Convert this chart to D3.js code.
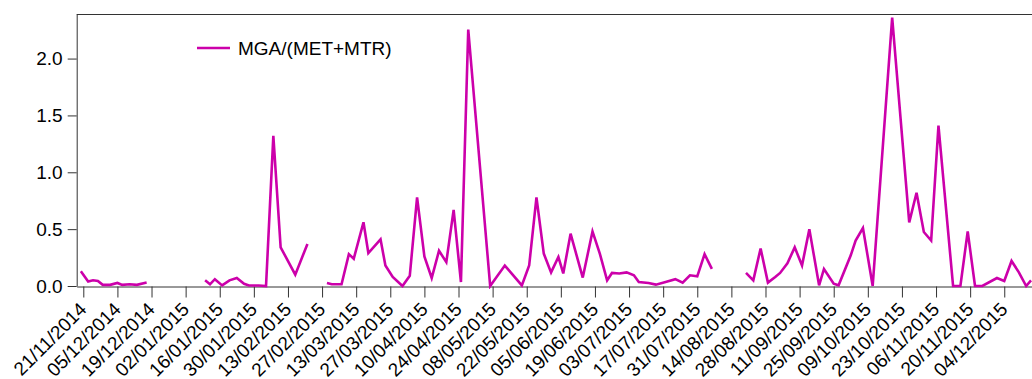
<!DOCTYPE html>
<html><head><meta charset="utf-8">
<script src="https://cdn.jsdelivr.net/npm/d3@7"></script>
<style>
body{margin:0;background:#fff}
svg{display:block}
text{font-family:Arial,"Liberation Sans",sans-serif;fill:#000}
</style>
</head><body>
<svg id="c" width="1032" height="379"></svg>
<script>
const dates = [
 "2014-11-20","2014-11-23","2014-11-25","2014-11-27","2014-11-29","2014-12-02","2014-12-05","2014-12-07","2014-12-10","2014-12-13","2014-12-17",
 "2014-12-30",
 "2015-01-10","2015-01-12","2015-01-14","2015-01-17","2015-01-20","2015-01-23","2015-01-26","2015-01-28","2015-02-01","2015-02-04","2015-02-07","2015-02-10","2015-02-16","2015-02-21",
 "2015-02-25",
 "2015-03-01","2015-03-03","2015-03-07","2015-03-10","2015-03-12","2015-03-16","2015-03-18","2015-03-23","2015-03-25","2015-03-28",
 "2015-04-01","2015-04-04","2015-04-07","2015-04-10","2015-04-13","2015-04-16","2015-04-19","2015-04-22","2015-04-25","2015-04-28",
 "2015-05-07","2015-05-13","2015-05-20","2015-05-23","2015-05-26","2015-05-29",
 "2015-06-01","2015-06-04","2015-06-06","2015-06-09","2015-06-14","2015-06-18","2015-06-21","2015-06-24","2015-06-26","2015-06-29",
 "2015-07-02","2015-07-05","2015-07-07","2015-07-11","2015-07-14","2015-07-18","2015-07-22","2015-07-25","2015-07-28","2015-07-31",
 "2015-08-03","2015-08-06",
 "2015-08-13",
 "2015-08-20","2015-08-23","2015-08-26","2015-08-29","2015-09-01","2015-09-03","2015-09-06","2015-09-09","2015-09-12","2015-09-15",
 "2015-09-19","2015-09-21","2015-09-25","2015-09-27","2015-10-02","2015-10-04","2015-10-07","2015-10-11","2015-10-19","2015-10-26",
 "2015-10-29","2015-11-01","2015-11-04","2015-11-07","2015-11-13","2015-11-16","2015-11-19","2015-11-22","2015-11-25","2015-12-01",
 "2015-12-04","2015-12-07","2015-12-10","2015-12-13","2015-12-15"
];
const values = [
 0.13,0.04,0.05,0.045,0.01,0.01,0.027,0.01,0.015,0.01,0.03,
 null,
 0.05,0.015,0.06,0.005,0.05,0.07,0.02,0.005,0.005,0.0,1.32,0.34,0.10,0.37,
 null,
 0.026,0.015,0.015,0.28,0.24,0.56,0.29,0.41,0.18,0.08,
 0.0,0.09,0.78,0.26,0.07,0.31,0.21,0.67,0.035,2.255,
 0.0,0.18,0.005,0.18,0.78,0.285,
 0.12,0.255,0.11,0.46,0.074,0.48,0.285,0.05,0.115,0.11,
 0.12,0.094,0.035,0.026,0.012,0.035,0.06,0.03,0.094,0.085,
 0.28,0.15,
 null,
 0.115,0.05,0.33,0.03,0.08,0.115,0.2,0.34,0.18,0.5,
 0.006,0.15,0.02,0.006,0.27,0.40,0.51,0.0,2.36,0.56,
 0.82,0.475,0.40,1.41,0.0,0.0,0.48,0.0,0.0,0.07,
 0.044,0.22,0.12,0.0,0.05
];
const tickLabels = [
 "21/11/2014","05/12/2014","19/12/2014","02/01/2015","16/01/2015","30/01/2015","13/02/2015",
 "27/02/2015","13/03/2015","27/03/2015","10/04/2015","24/04/2015","08/05/2015","22/05/2015",
 "05/06/2015","19/06/2015","03/07/2015","17/07/2015","31/07/2015","14/08/2015","28/08/2015",
 "11/09/2015","25/09/2015","09/10/2015","23/10/2015","06/11/2015","20/11/2015","04/12/2015"
];
const yTicks = [0, 0.5, 1.0, 1.5, 2.0];
const yMax = 2.392;
const xStart = "2014-11-18T07:00", xEnd = "2015-12-15T19:12";
const seriesName = "MGA/(MET+MTR)";

// ---- layout ----
const L = 76.7, R = 1033, T = 14, B = 286;
const color = "#cc00aa", axisColor = "#333";
const fs = 19;

const parse = d3.timeParse("%Y-%m-%d");
const parseTick = d3.timeParse("%d/%m/%Y");
const parseEdge = d3.timeParse("%Y-%m-%dT%H:%M");

const data = dates.map((d, i) => ({date: parse(d), value: values[i]}));

const x = d3.scaleTime().domain([parseEdge(xStart), parseEdge(xEnd)]).range([L, R]);
const y = d3.scaleLinear().domain([0, yMax]).range([B, T]);

const svg = d3.select("#c");

svg.append("defs").append("clipPath").attr("id", "clip")
  .append("rect").attr("x", L).attr("y", T - 3).attr("width", R - L).attr("height", B - T + 6);

// frame top
svg.append("line").attr("x1", L).attr("x2", R + 5).attr("y1", T + 0.5).attr("y2", T + 0.5)
  .attr("stroke", axisColor).attr("stroke-width", 1);

// y axis
const yAxis = svg.append("g").attr("transform", `translate(${L},0)`)
  .call(d3.axisLeft(y).tickValues(yTicks).tickFormat(d3.format(".1f")).tickSize(9).tickSizeOuter(0).tickPadding(5));
yAxis.selectAll("path,line").attr("stroke", axisColor);
yAxis.selectAll("text").attr("font-size", fs).attr("font-family", "Arial, 'Liberation Sans', sans-serif").attr("fill", "#000");

// x axis
const xAxis = svg.append("g").attr("transform", `translate(0,${B + 0.5})`)
  .call(d3.axisBottom(x).tickValues(tickLabels.map(parseTick)).tickFormat(d3.timeFormat("%d/%m/%Y")).tickSize(11).tickSizeOuter(0));
xAxis.selectAll("path,line").attr("stroke", axisColor);
xAxis.selectAll("text")
  .attr("font-size", fs).attr("font-family", "Arial, 'Liberation Sans', sans-serif").attr("fill", "#000")
  .attr("text-anchor", "end").attr("x", 0).attr("y", 0).attr("dy", 0)
  .attr("transform", "translate(4,24) rotate(-45)");

// series line
const line = d3.line().defined(d => d.value !== null).x(d => x(d.date)).y(d => y(d.value));
svg.append("path").datum(data).attr("clip-path", "url(#clip)")
  .attr("d", line).attr("fill", "none").attr("stroke", color)
  .attr("stroke-width", 2.6).attr("stroke-linejoin", "miter").attr("stroke-miterlimit", 4);

// legend
const lg = svg.append("g");
lg.append("line").attr("x1", 197).attr("x2", 230).attr("y1", 48).attr("y2", 48)
  .attr("stroke", color).attr("stroke-width", 2.6);
lg.append("text").attr("x", 238).attr("y", 55).attr("font-size", fs).text(seriesName);
</script>
</body></html>
